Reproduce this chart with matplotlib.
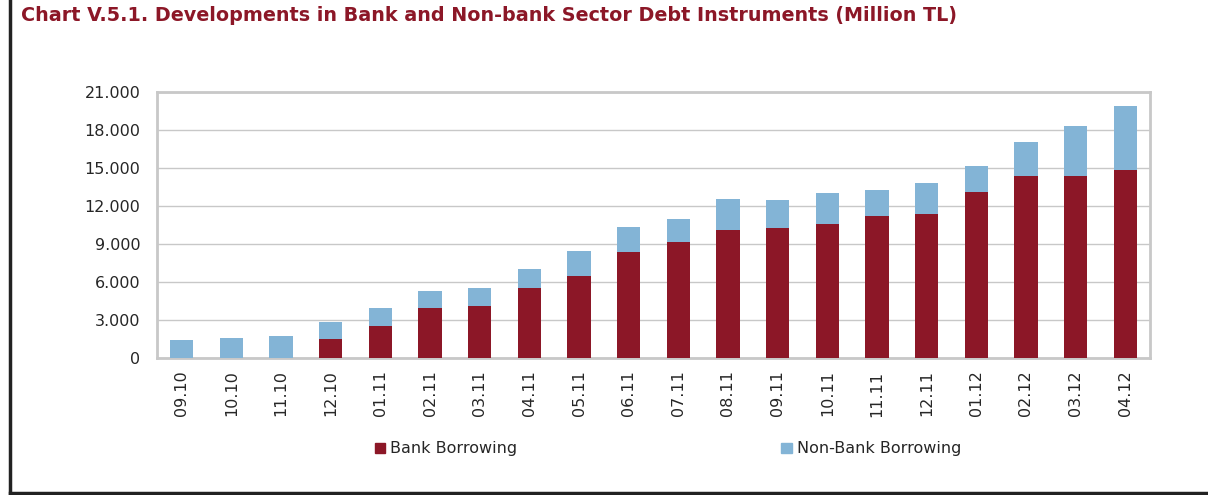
import numpy as np
import matplotlib.pyplot as plt
from matplotlib.patches import Patch
from matplotlib.ticker import FuncFormatter

# data (million TL)
months = ["09.10", "10.10", "11.10", "12.10", "01.11", "02.11", "03.11", "04.11",
          "05.11", "06.11", "07.11", "08.11", "09.11", "10.11", "11.11", "12.11",
          "01.12", "02.12", "03.12", "04.12"]
bank = [0, 0, 0, 1470, 2490, 3910, 4140, 5560,
        6500, 8390, 9180, 10120, 10280, 10590, 11220, 11380,
        13110, 14370, 14370, 14840]
total = [1390, 1550, 1700, 2810, 3910, 5320, 5560, 7050,
         8470, 10360, 10990, 12560, 12480, 13030, 13270, 13820,
         15150, 17040, 18300, 19870]
non_bank = [t - b for t, b in zip(total, bank)]

red = "#8C1727"
blue = "#83B4D6"
grid_col = "#C8C8C8"
txt = "#262626"

fig = plt.figure(figsize=(12.08, 4.95), dpi=100)
ax = fig.add_axes([157 / 1208, 1 - 358 / 495, (1150 - 157) / 1208, (358 - 92) / 495])

x = np.arange(len(months))
ax.bar(x, bank, width=0.47, color=red, zorder=3)
ax.bar(x, non_bank, width=0.47, bottom=bank, color=blue, zorder=3)

ax.set_xlim(-0.5, len(months) - 0.5)
ax.set_ylim(0, 21000)
ax.set_yticks(np.arange(0, 21001, 3000))
ax.yaxis.set_major_formatter(FuncFormatter(lambda v, p: f"{int(v):,}".replace(",", ".")))
ax.set_xticks(x)
ax.set_xticklabels(months, rotation=90)
ax.tick_params(axis="both", length=0, labelsize=11.5, colors=txt)
ax.tick_params(axis="x", pad=9)
ax.tick_params(axis="y", pad=12)
ax.grid(axis="y", color=grid_col, linewidth=1, zorder=0)
for s in ax.spines.values():
    s.set_color(grid_col)
    s.set_linewidth(2)

fig.text(21 / 1208, 1 - 6 / 495, "Chart V.5.1. Developments in Bank and Non-bank Sector Debt Instruments (Million TL)",
         color="#8C1727", fontsize=13.8, fontweight="bold", ha="left", va="top")

handles = [Patch(color=red, label="Bank Borrowing"), Patch(color=blue, label="Non-Bank Borrowing")]
fig.legend(handles=handles, loc="center", bbox_to_anchor=(668 / 1208, 1 - 449 / 495), ncol=2,
           frameon=False, fontsize=11.5, handlelength=0.65, handleheight=0.65, handletextpad=0.35,
           columnspacing=16.5, labelcolor=txt)

# outer frame (left and bottom edges)
fig.add_artist(plt.Line2D([10 / 1208, 10 / 1208], [1 - 493 / 495, 1], color="#222222", linewidth=2.5))
fig.add_artist(plt.Line2D([10 / 1208, 1], [1 - 493 / 495, 1 - 493 / 495], color="#222222", linewidth=2.5))

fig.savefig("out.png", dpi=100)
